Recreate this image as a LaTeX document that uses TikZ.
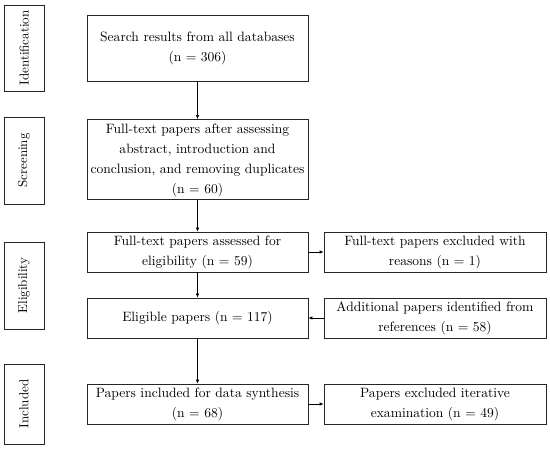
\documentclass[tikz,border=0pt]{standalone}
\usepackage{graphicx}
\usetikzlibrary{arrows.meta}
\newcommand{\bt}[1]{\scalebox{1.355}{\fontsize{10}{14.76}\selectfont\begin{tabular}{@{}c@{}}#1\end{tabular}}}
\newcommand{\st}[1]{\scalebox{1.3}{\fontsize{10}{12}\selectfont #1}}
\begin{document}
\begin{tikzpicture}[x=1pt,y=-1pt,
  stage/.style={draw=black!85,line width=0.8pt,rotate=90,minimum height=40pt,inner sep=0pt,anchor=center},
  mainbox/.style={draw=black!85,line width=0.8pt,minimum width=221pt,inner sep=0pt,align=center,anchor=center},
  sidebox/.style={draw=black!85,line width=0.8pt,minimum width=222pt,minimum height=40pt,inner sep=0pt,align=center,anchor=center},
  arr/.style={draw=black,line width=0.6pt,-{Latex[length=4pt,width=3.5pt]}}]
\useasboundingbox (0,0) rectangle (550,449);
% stage labels
\node[stage,minimum width=86pt] (id) at (24,48) {\st{Identification}};
\node[stage,minimum width=87pt] (scr) at (24,160.5) {\st{Screening}};
\node[stage,minimum width=87pt] (eli) at (24,285.5) {\st{Eligibility}};
\node[stage,minimum width=80pt] (inc) at (24,404) {\st{Included}};
% main column
\node[mainbox,minimum height=66pt] (b1) at (197.5,48) {\bt{Search results from all databases\\(n = 306)}};
\node[mainbox,minimum height=79pt] (b2) at (197.5,159.5) {\bt{Full-text papers after assessing\\abstract, introduction and\\conclusion, and removing duplicates\\(n = 60)}};
\node[mainbox,minimum height=40pt] (b3) at (197.5,252) {\bt{Full-text papers assessed for\\eligibility (n = 59)}};
\node[mainbox,minimum height=40pt] (b4) at (197.5,318) {\bt{Eligible papers (n = 117)}};
\node[mainbox,minimum height=40pt] (b5) at (197.5,404) {\bt{Papers included for data synthesis\\(n = 68)}};
% side column
\node[sidebox] (r1) at (435,252) {\bt{Full-text papers excluded with\\reasons (n = 1)}};
\node[sidebox] (r2) at (435,318) {\bt{Additional papers identified from\\references (n = 58)}};
\node[sidebox] (r3) at (435,404) {\bt{Papers excluded iterative\\examination (n = 49)}};
% connectors
\draw[arr] (b1) -- (b2);
\draw[arr] (b2) -- (b3);
\draw[arr] (b3) -- (b4);
\draw[arr] (b4) -- (b5);
\draw[arr] (b3) -- (r1);
\draw[arr] (r2) -- (b4);
\draw[arr] (b5) -- (r3);
\end{tikzpicture}
\end{document}
